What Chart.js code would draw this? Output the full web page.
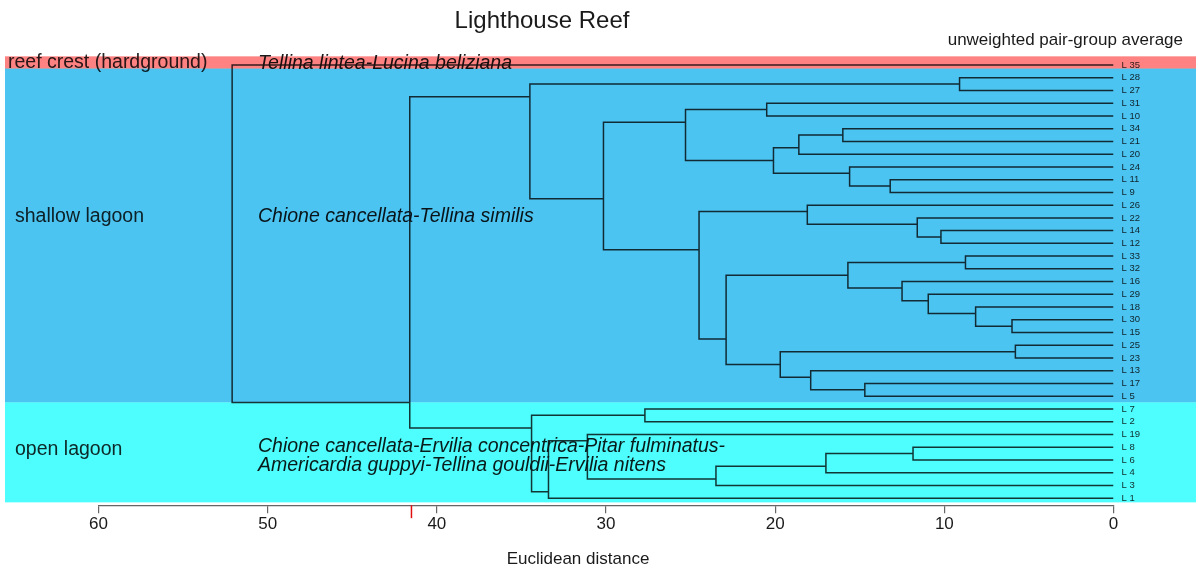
<!DOCTYPE html>
<html><head><meta charset="utf-8">
<script src="https://cdn.jsdelivr.net/npm/chart.js@4.4.1/dist/chart.umd.min.js"></script>
<style>html,body{margin:0;padding:0;background:#fff;}#wrap{width:1198px;height:572px;position:relative;}</style>
</head><body><div id="wrap"><canvas id="c" width="1198" height="572"></canvas></div>
<script>
// ---- data ----
const leaves = ['L 35','L 28','L 27','L 31','L 10','L 34','L 21','L 20','L 24','L 11','L 9','L 26','L 22','L 14','L 12','L 33','L 32','L 16','L 29','L 18','L 30','L 15','L 25','L 23','L 13','L 17','L 5','L 7','L 2','L 19','L 8','L 6','L 4','L 3','L 1'];
// merge steps: a string is a leaf, a number is an earlier merge (1-based)
const mergeA = ['L 28','L 31','L 34',3,'L 11','L 24',4,2,'L 14','L 22','L 26','L 33','L 30','L 18','L 29','L 16',12,'L 25','L 17','L 13',18,17,11,8,1,'L 7','L 8',27,28,'L 19',30,26,25,'L 35'];
const mergeB = ['L 27','L 10','L 21','L 20','L 9',5,6,7,'L 12',9,10,'L 32','L 15',13,14,15,16,'L 23','L 5',19,20,21,22,23,24,'L 2','L 6','L 4','L 3',29,'L 1',31,32,33];
const mergeHeight = [9.1,20.5,16.0,18.6,13.2,15.6,20.1,25.3,10.2,11.6,18.1,8.75,6.0,8.15,10.95,12.5,15.7,5.8,14.7,17.9,19.7,22.9,24.5,30.15,34.5,27.7,11.85,17.0,23.5,31.1,33.4,34.4,41.6,52.1];
const xTicks = [60,50,40,30,20,10,0];
const cutHeight = 41.5;
const groupNames = ['reef crest (hardground)','shallow lagoon','open lagoon'];
const groupSpecies = [['Tellina lintea-Lucina beliziana'],['Chione cancellata-Tellina similis'],['Chione cancellata-Ervilia concentrica-Pitar fulminatus-','Americardia guppyi-Tellina gouldii-Ervilia nitens']];
const titleText = 'Lighthouse Reef';
const subtitleText = 'unweighted pair-group average';
const xTitleText = 'Euclidean distance';

// ---- styles / layout ----
const FONT = '"Liberation Sans", Arial, Helvetica, sans-serif';
const bandEdges = [-0.68, 0.28, 26.47, 34.33];
const bandColors = ['#fe8282', '#4cc4f2', '#4efdfd'];
const groupLabelPos = [{x:8,y:-0.15},{x:15,y:11.93},{x:15,y:30.2}];
const speciesPos = [{x:258,y:[-0.15]},{x:258,y:[11.93]},{x:258,y:[29.98,31.48]}];

// ---- build tree geometry from merges ----
const nodes = [];
function resolve(c){
  if (typeof c === 'string'){ const i = leaves.indexOf(c); return {y:i,h:0,first:i,last:i}; }
  return nodes[c-1];
}
const datasets = [];
for (let k=0;k<mergeA.length;k++){
  let a = resolve(mergeA[k]), b = resolve(mergeB[k]);
  if (a.first > b.first){ const t=a; a=b; b=t; }
  const h = mergeHeight[k];
  nodes.push({y:a.last+0.5,h:h,first:a.first,last:b.last});
  datasets.push({
    data:[{x:a.h,y:a.y},{x:h,y:a.y},{x:h,y:b.y},{x:b.h,y:b.y}],
    showLine:true, borderColor:'#363636', borderWidth:1.5, pointRadius:0, tension:0, fill:false
  });
}

const overlay = {
  id:'overlay',
  beforeDraw(chart){
    const c = chart.ctx; c.save(); c.fillStyle='#fff'; c.fillRect(0,0,chart.width,chart.height); c.restore();
  },
  afterDraw(chart){
    const c = chart.ctx, xs = chart.scales.x, ys = chart.scales.y, ca = chart.chartArea;
    c.save();
    c.textBaseline='middle'; c.textAlign='left';
    c.fillStyle='#2a2a2a'; c.font='19.5px '+FONT;
    groupNames.forEach((g,i)=>{ c.fillText(g, groupLabelPos[i].x, ys.getPixelForValue(groupLabelPos[i].y)); });
    c.fillStyle='#1a1a1a'; c.font='italic 19.5px '+FONT;
    groupSpecies.forEach((lines,i)=>{ lines.forEach((t,j)=>{ c.fillText(t, speciesPos[i].x, ys.getPixelForValue(speciesPos[i].y[j])); }); });
    c.globalCompositeOperation='multiply';
    for (let i=0;i<bandColors.length;i++){
      const y0 = ys.getPixelForValue(bandEdges[i]), y1 = ys.getPixelForValue(bandEdges[i+1]);
      c.fillStyle = bandColors[i];
      c.fillRect(5, y0, 1191, y1-y0);
    }
    c.globalCompositeOperation='source-over';
    const xc = xs.getPixelForValue(cutHeight);
    c.strokeStyle='#e01010'; c.lineWidth=1.5;
    c.beginPath(); c.moveTo(xc, ca.bottom); c.lineTo(xc, ca.bottom+13); c.stroke();
    c.fillStyle='#1a1a1a';
    c.font='24px '+FONT; c.textAlign='center'; c.textBaseline='alphabetic';
    c.fillText(titleText, 542, 28);
    c.font='17px '+FONT; c.textAlign='right';
    c.fillText(subtitleText, 1183, 45);
    c.font='17px '+FONT; c.textAlign='center';
    c.fillText(xTitleText, 578, 564);
    c.restore();
  }
};

new Chart(document.getElementById('c'), {
  type:'scatter',
  data:{datasets},
  options:{
    responsive:false, animation:false, devicePixelRatio:1, events:[],
    layout:{padding:{left:98.5, top:56.08, right:0, bottom:0}},
    plugins:{legend:{display:false}, tooltip:{enabled:false}, title:{display:false}},
    scales:{
      x:{type:'linear', min:0, max:60, reverse:true,
        afterBuildTicks:s=>{ s.ticks = xTicks.map(v=>({value:v})); },
        afterFit:s=>{ s.height = 66.83; },
        ticks:{font:{family:FONT,size:17}, color:'#1a1a1a', padding:1, maxRotation:0, autoSkip:false},
        grid:{drawOnChartArea:false, drawTicks:true, tickLength:8, color:'#666', lineWidth:1.2},
        border:{display:true, color:'#666', width:1.2}
      },
      y:{type:'linear', position:'right', min:-0.7, max:34.55, reverse:true,
        afterBuildTicks:s=>{ s.ticks = leaves.map((_,i)=>({value:i})); },
        afterFit:s=>{ s.width = 84.5; },
        ticks:{autoSkip:false, font:{family:FONT,size:9.5}, color:'#333', padding:8, callback:v=>leaves[v]},
        grid:{display:false, drawTicks:false, tickLength:0},
        border:{display:false}
      }
    }
  },
  plugins:[overlay]
});
</script></body></html>
